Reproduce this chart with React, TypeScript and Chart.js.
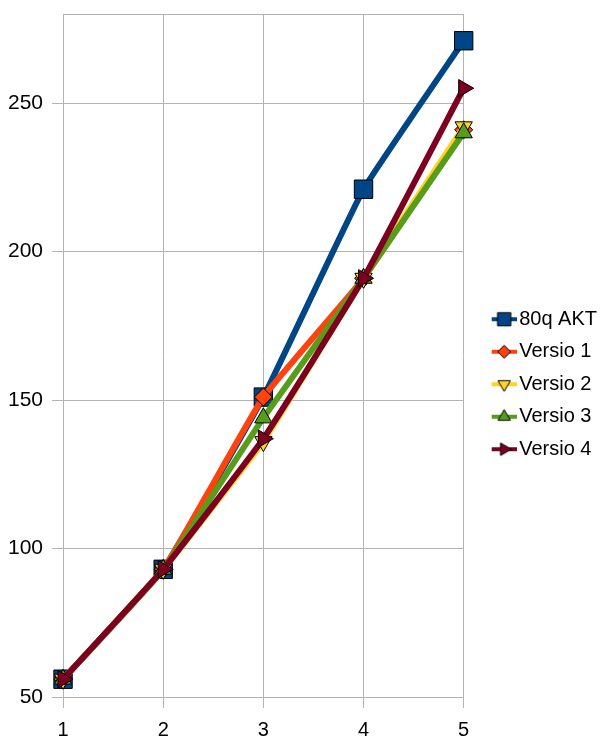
import { useEffect, useRef } from 'react';
import { Chart, registerables } from 'chart.js';
import { drawPoint } from 'chart.js/helpers';

Chart.register(...registerables);

const categories = ['1', '2', '3', '4', '5'];
const seriesNames = ['80q AKT', 'Versio 1', 'Versio 2', 'Versio 3', 'Versio 4'];
const akt = [56, 93, 151, 221, 271];
const versio1 = [56, 93, 151, 191, 241];
const versio2 = [56, 93, 136, 191, 242];
const versio3 = [56, 93, 144, 191, 240];
const versio4 = [56, 93, 137, 191, 255];
const yTickValues = [50, 100, 150, 200, 250];
const yMin = 50;
const yMax = 280;

const seriesValues = [akt, versio1, versio2, versio3, versio4];
const colors = ['#004586', '#ff420e', '#ffd320', '#579d1c', '#7e0021'];
const pointStyles = ['rect', 'rectRot', 'triangle', 'triangle', 'triangle'];
const rotations = [0, 0, 180, 0, 90];
const radii = [13, 9, 10, 10, 10];

const FONT = '"Liberation Sans", Arial, sans-serif';
const GRID = '#b3b3b3';

function makeIcon(i: number): HTMLCanvasElement {
  const c = document.createElement('canvas');
  c.width = 48;
  c.height = 18;
  const ctx = c.getContext('2d')!;
  ctx.fillStyle = colors[i];
  ctx.fillRect(23, 7, 25, 4);
  ctx.fillStyle = colors[i];
  ctx.strokeStyle = '#000';
  ctx.lineWidth = 1;
  drawPoint(ctx, { pointStyle: pointStyles[i] as any, rotation: rotations[i], radius: radii[i] * 0.72, borderWidth: 1 }, 35.5, 9);
  return c;
}

export default function App() {
  const ref = useRef<HTMLCanvasElement>(null);
  useEffect(() => {
    document.body.style.margin = '0';
    const icons = seriesNames.map((_, i) => makeIcon(i));
    const chart = new Chart(ref.current!, {
      type: 'line',
      data: {
        labels: categories,
        datasets: seriesNames.map((name, i) => ({
          label: name,
          data: seriesValues[i],
          borderColor: colors[i],
          backgroundColor: colors[i],
          borderWidth: 6,
          pointStyle: pointStyles[i] as any,
          pointRotation: rotations[i],
          pointRadius: radii[i],
          pointBackgroundColor: colors[i],
          pointBorderColor: '#000',
          pointBorderWidth: 1,
          tension: 0.1,
          fill: false,
          order: seriesNames.length - i,
        })),
      },
      options: {
        responsive: false,
        animation: false,
        layout: { padding: { left: -1, right: 0, top: 10, bottom: -12 } },
        plugins: {
          tooltip: { enabled: false },
          legend: {
            position: 'right',
            title: { display: true, text: ' ', padding: 2, font: { size: 2 } },
            labels: {
              usePointStyle: true,
              pointStyleWidth: 33,
              padding: 12.5,
              color: '#000',
              font: { family: FONT, size: 20 },
              generateLabels: () =>
                seriesNames.map((name, i) => ({
                  text: name,
                  pointStyle: icons[i] as any,
                  fillStyle: colors[i],
                  strokeStyle: colors[i],
                  lineWidth: 0,
                  hidden: false,
                  datasetIndex: i,
                  fontColor: '#000',
                })),
            },
          },
        },
        scales: {
          x: {
            type: 'category',
            offset: false,
            grid: { color: GRID, tickColor: GRID, tickLength: 11, lineWidth: 1 },
            border: { color: GRID },
            ticks: { color: '#000', font: { family: FONT, size: 20, lineHeight: 1 }, padding: 12, maxRotation: 0 },
          },
          y: {
            min: yMin,
            max: yMax,
            afterFit: (scale: any) => {
              scale.paddingTop = 0;
            },
            grid: {
              color: GRID,
              tickLength: 11,
              tickColor: (ctx: any) => (ctx.tick && yTickValues.includes(ctx.tick.value) ? GRID : 'rgba(0,0,0,0)'),
            },
            border: { color: GRID },
            ticks: {
              stepSize: 50,
              color: '#000',
              font: { family: FONT, size: 21 },
              padding: 9,
              callback: (v: any) => (yTickValues.includes(Number(v)) ? String(v) : ''),
            },
          },
        },
      },
    });
    return () => chart.destroy();
  }, []);
  return (
    <div style={{ width: 607, height: 740 }}>
      <canvas ref={ref} width={607} height={740} />
    </div>
  );
}
